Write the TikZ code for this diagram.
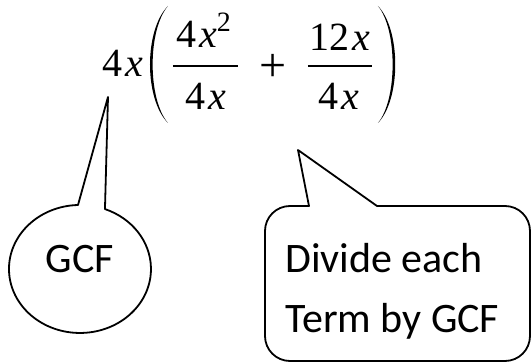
\documentclass[tikz,border=0pt]{standalone}
\usepackage{fontspec}
\setmainfont{Liberation Serif}
\newfontfamily\calloutfont{Carlito}
\usetikzlibrary{positioning}
\tikzset{mathtext/.style={inner sep=0pt,font=\fontsize{20}{22}\selectfont,anchor=base},bubble/.style={draw=black,line width=.9pt,line join=round},bubbletext/.style={inner sep=0pt,font=\calloutfont\fontsize{21}{25}\selectfont},fracbar/.style={draw=black,line width=.7pt},bigparen/.style={fill=black}}
\newcommand{\vx}{\kern1.5pt\textit{x}}

\begin{document}
\begin{tikzpicture}[x=.5pt,y=-.5pt]
\useasboundingbox[fill=white] (0,0) rectangle (532,364);
% the factored expression
\node[mathtext,anchor=base west] (factor) at (102,76) {4\vx};
\fill[bigparen] (168,6) .. controls (144,30) and (144,99) .. (168,123) .. controls (147.5,99) and (147.5,30) .. (168,6);
\node[mathtext] (numa) at (204,47) {4\vx\textsuperscript{2}};
\draw[fracbar] (173,66) -- (238,66);
\node[mathtext] (dena) at (205.5,110) {4\vx};
\node[inner sep=0pt,font=\fontsize{24}{26}\selectfont] (plus) at (273,68) {+};
\node[mathtext] (numb) at (340,50) {12\vx};
\draw[fracbar] (308,66) -- (372,66);
\node[mathtext] (denb) at (339,110) {4\vx};
\fill[bigparen] (378,6) .. controls (401,30) and (401,99) .. (378,123) .. controls (397.5,99) and (397.5,30) .. (378,6);
% oval callout
\coordinate (gcftip) at (108,97);
\draw[bubble] (gcftip) -- (78,205) arc[start angle=268.4,end angle=-69.4,x radius=71,y radius=64] -- cycle;
\node[bubbletext,anchor=base] (gcf) at (80,272) {GCF};
% box callout
\coordinate (boxtip) at (298,150);
\draw[bubble] (309,206) -- (boxtip) -- (377,206) -- (505,206) arc[start angle=-90,end angle=0,radius=25] -- (530,336) arc[start angle=0,end angle=90,radius=25] -- (290,361) arc[start angle=90,end angle=180,radius=25] -- (265,231) arc[start angle=180,end angle=270,radius=25] -- cycle;
\node[bubbletext,anchor=base west] (divide) at (285,272) {Divide each};
\node[bubbletext,anchor=base west] (term) at (285,333) {Term by GCF};
\end{tikzpicture}
\end{document}
